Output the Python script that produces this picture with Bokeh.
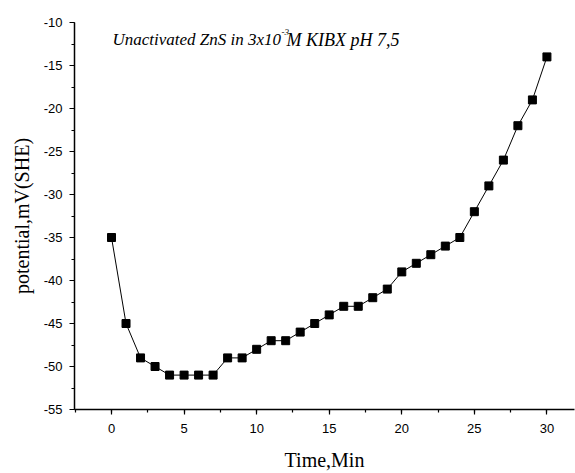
from bokeh.plotting import figure
from bokeh.models import Range1d, Label, SingleIntervalTicker, PrintfTickFormatter
from bokeh.embed import file_html
from bokeh.resources import INLINE

# Open-circuit potential of unactivated ZnS over time
time_min = [0, 1, 2, 3, 4, 5, 6, 7, 8, 9, 10, 11, 12, 13, 14, 15,
            16, 17, 18, 19, 20, 21, 22, 23, 24, 25, 26, 27, 28, 29, 30]
potential_mv = [-35, -45, -49, -50, -51, -51, -51, -51, -49, -49, -48, -47, -47, -46, -45, -44,
                -43, -43, -42, -41, -39, -38, -37, -36, -35, -32, -29, -26, -22, -19, -14]

x_label = "Time,Min"
y_label = "potential,mV(SHE)"

p = figure(width=575, height=473, output_backend="svg", toolbar_location=None,
           x_range=Range1d(-2.55, 31.9), y_range=Range1d(-55, -10),
           min_border_left=74, min_border_right=1, min_border_top=22, min_border_bottom=60)

p.background_fill_color = "white"
p.border_fill_color = "white"
p.outline_line_color = None
p.xgrid.visible = False
p.ygrid.visible = False

p.line(time_min, potential_mv, line_color="black", line_width=1)
p.scatter(time_min, potential_mv, marker="square", size=8,
          fill_color="black", line_color="black")

p.xaxis.ticker = SingleIntervalTicker(interval=5, num_minor_ticks=2)
p.yaxis.ticker = SingleIntervalTicker(interval=5, num_minor_ticks=2)
p.xaxis.formatter = PrintfTickFormatter(format="%d")
p.yaxis.formatter = PrintfTickFormatter(format="%d")

for ax in (p.xaxis[0], p.yaxis[0]):
    ax.axis_line_color = "black"
    ax.axis_line_width = 1.5
    ax.major_tick_line_color = "black"
    ax.minor_tick_line_color = "black"
    ax.major_tick_line_width = 1.2
    ax.minor_tick_line_width = 1.2
    ax.major_tick_in = 0
    ax.major_tick_out = 5
    ax.minor_tick_in = 0
    ax.minor_tick_out = 3
    ax.major_label_text_font = "Liberation Sans"
    ax.major_label_text_font_size = "13px"
    ax.major_label_text_color = "black"
    ax.axis_label_text_font = "Liberation Serif"
    ax.axis_label_text_font_size = "20px"
    ax.axis_label_text_font_style = "normal"
    ax.axis_label_text_color = "black"

p.xaxis.axis_label = x_label
p.yaxis.axis_label = y_label
p.xaxis.major_label_standoff = 9
p.yaxis.major_label_standoff = 7
p.xaxis.axis_label_standoff = 13
p.yaxis.axis_label_standoff = 8

# Annotation: condition of the measurement (screen units are frame-relative)
title_style = dict(x_units="screen", y_units="screen", text_font="Liberation Serif",
                   text_font_style="italic", text_color="black",
                   text_baseline="alphabetic")
p.add_layout(Label(x=38, y=370, text="Unactivated ZnS in 3x10",
                   text_font_size="17px", **title_style))
p.add_layout(Label(x=207, y=378, text="-3", text_font_size="9px", **title_style))
p.add_layout(Label(x=212, y=370, text="M KIBX pH 7,5",
                   text_font_size="18px", **title_style))

open("out.html", "w").write(file_html(p, INLINE))
